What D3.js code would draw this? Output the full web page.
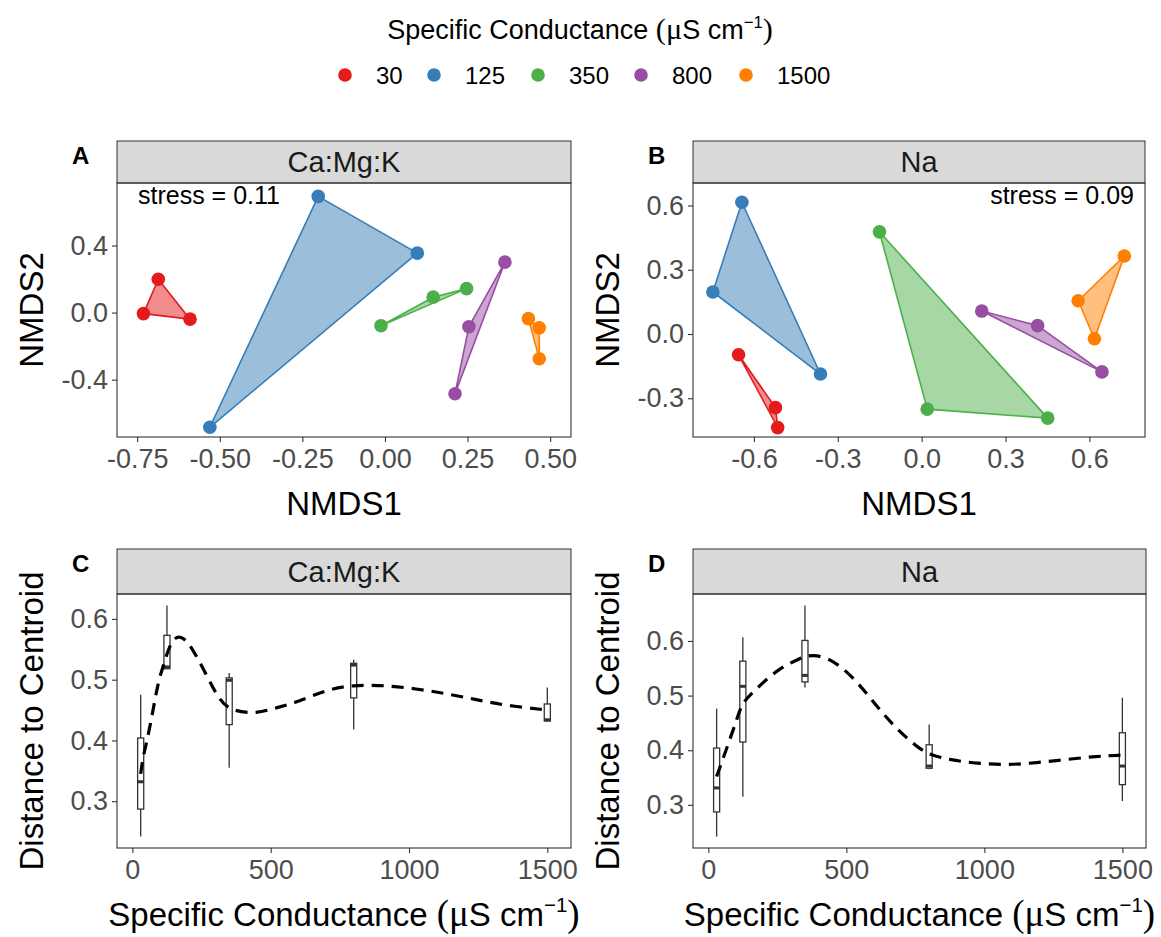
<!DOCTYPE html>
<html><head><meta charset="utf-8">
<script src="https://cdn.jsdelivr.net/npm/d3@7"></script>
<style>body{margin:0;background:#fff} text{font-family:"Liberation Sans",Arial,sans-serif}</style>
</head><body><svg id="c" width="1161" height="937"></svg>
<script>
// ---------- DATA ----------
const groups = [30, 125, 350, 800, 1500];
const groupColors = ["#E41A1C", "#377EB8", "#4DAF4A", "#984EA3", "#FF7F00"];

// NMDS scores, Ca:Mg:K  [group, NMDS1, NMDS2]
const nmdsCaMgK = [
  [30, -0.686, 0.199], [30, -0.731, -0.006], [30, -0.590, -0.039],
  [125, -0.202, 0.693], [125, 0.098, 0.355], [125, -0.530, -0.684],
  [350, -0.012, -0.078], [350, 0.146, 0.092], [350, 0.247, 0.143],
  [800, 0.363, 0.301], [800, 0.254, -0.084], [800, 0.212, -0.484],
  [1500, 0.434, -0.036], [1500, 0.467, -0.091], [1500, 0.467, -0.275]
];
// NMDS scores, Na
const nmdsNa = [
  [30, -0.655, -0.097], [30, -0.523, -0.344], [30, -0.515, -0.437],
  [125, -0.643, 0.615], [125, -0.747, 0.196], [125, -0.362, -0.187],
  [350, -0.151, 0.477], [350, 0.020, -0.351], [350, 0.451, -0.393],
  [800, 0.215, 0.107], [800, 0.415, 0.039], [800, 0.645, -0.177],
  [1500, 0.725, 0.364], [1500, 0.560, 0.155], [1500, 0.618, -0.022]
];
const stressCaMgK = "stress = 0.11";
const stressNa = "stress = 0.09";

// Distance to centroid boxplots (whisker low, q1, median, q3, whisker high)
const boxCaMgK_lo  = [0.242, 0.518, 0.355, 0.418, 0.432];
const boxCaMgK_q1  = [0.287, 0.518, 0.426, 0.470, 0.432];
const boxCaMgK_med = [0.332, 0.521, 0.499, 0.524, 0.434];
const boxCaMgK_q3  = [0.404, 0.573, 0.503, 0.527, 0.460];
const boxCaMgK_hi  = [0.475, 0.622, 0.511, 0.533, 0.487];

const boxNa_lo  = [0.242, 0.315, 0.515, 0.365, 0.307];
const boxNa_q1  = [0.287, 0.415, 0.525, 0.367, 0.337];
const boxNa_med = [0.331, 0.517, 0.537, 0.371, 0.371];
const boxNa_q3  = [0.404, 0.563, 0.601, 0.410, 0.432];
const boxNa_hi  = [0.476, 0.607, 0.665, 0.447, 0.496];

// smoothed trend
const smoothCaMgK_x = [30, 38, 53, 74, 95, 111, 140, 176, 213, 268, 316, 364, 449, 521, 605, 702, 798, 907, 1027, 1136, 1245, 1341, 1500];
const smoothCaMgK_y = [0.345, 0.372, 0.399, 0.448, 0.500, 0.521, 0.566, 0.574, 0.555, 0.508, 0.464, 0.448, 0.444, 0.454, 0.464, 0.484, 0.491, 0.491, 0.485, 0.477, 0.467, 0.458, 0.450];
const smoothNa_x = [30, 69, 105, 123, 165, 249, 334, 376, 454, 539, 611, 683, 768, 804, 876, 973, 1081, 1189, 1298, 1406, 1500];
const smoothNa_y = [0.352, 0.407, 0.459, 0.487, 0.508, 0.548, 0.569, 0.576, 0.566, 0.526, 0.480, 0.438, 0.401, 0.392, 0.382, 0.376, 0.373, 0.377, 0.383, 0.389, 0.391];

// tick values
const ticksA_x = [-0.75, -0.5, -0.25, 0, 0.25, 0.5];
const ticksA_y = [-0.4, 0, 0.4];
const ticksB_x = [-0.6, -0.3, 0, 0.3, 0.6];
const ticksB_y = [-0.3, 0, 0.3, 0.6];
const ticksCD_x = [0, 500, 1000, 1500];
const ticksCD_y = [0.3, 0.4, 0.5, 0.6];

// ---------- DRAWING ----------
const svg = d3.select("#c");
const color = d3.scaleOrdinal().domain(groups).range(groupColors);
const DARK = "#333333", TICKTXT = "#4D4D4D";
const FS_TICK = 27, FS_TITLE = 33, FS_STRIP = 29;
const hy = f => v => f(v).replace("\u2212", "-");

function scTitle(t, fs) {
  t.append("tspan").text("Specific Conductance ");
  t.append("tspan").attr("font-family", "'Liberation Serif','Times New Roman',serif").attr("font-size", fs * 1.12).text("(\u03BC");
  t.append("tspan").text("S cm");
  t.append("tspan").attr("font-size", fs * 0.62).attr("dy", -fs * 0.42).text("\u22121");
  t.append("tspan").attr("font-family", "'Liberation Serif','Times New Roman',serif").attr("font-size", fs * 1.12).attr("dy", fs * 0.42).text(")");
}

function panelFrame(p) {
  svg.append("rect").attr("x", p.x0).attr("y", p.stripTop).attr("width", p.x1 - p.x0).attr("height", p.y0 - p.stripTop)
    .attr("fill", "#D9D9D9").attr("stroke", DARK).attr("stroke-width", 1);
  svg.append("text").attr("x", (p.x0 + p.x1) / 2).attr("y", (p.stripTop + p.y0) / 2).attr("dy", "0.36em")
    .attr("text-anchor", "middle").attr("font-size", FS_STRIP).attr("fill", "#1A1A1A").text(p.strip);
  svg.append("text").attr("x", p.tagX).attr("y", p.stripTop + 23).attr("font-size", 24).attr("font-weight", "bold").text(p.tag);
}

function axes(p, xs, ys, xt, yt, xf, yf, xTitle, yTitle) {
  const gx = svg.append("g").attr("transform", `translate(0,${p.y1})`)
    .call(d3.axisBottom(xs).tickValues(xt).tickFormat(xf).tickSize(5).tickPadding(7));
  const gy = svg.append("g").attr("transform", `translate(${p.x0},0)`)
    .call(d3.axisLeft(ys).tickValues(yt).tickFormat(yf).tickSize(5).tickPadding(4));
  [gx, gy].forEach(g => {
    g.select(".domain").remove();
    g.selectAll(".tick line").attr("stroke", DARK).attr("stroke-width", 1.1);
    g.selectAll(".tick text").attr("fill", TICKTXT).attr("font-size", FS_TICK).attr("font-family", "'Liberation Sans',Arial,sans-serif");
  });
  const xt_ = svg.append("text").attr("x", (p.x0 + p.x1) / 2).attr("y", p.y1 + 78).attr("text-anchor", "middle")
    .attr("font-size", FS_TITLE).attr("fill", "#000");
  if (xTitle === "SC") scTitle(xt_, FS_TITLE); else xt_.text(xTitle);
  svg.append("text").attr("transform", `translate(${p.x0 - 74},${(p.y0 + p.y1) / 2}) rotate(-90)`)
    .attr("text-anchor", "middle").attr("font-size", FS_TITLE).attr("fill", "#000").text(yTitle);
}

function border(p) {
  svg.append("rect").attr("x", p.x0).attr("y", p.y0).attr("width", p.x1 - p.x0).attr("height", p.y1 - p.y0)
    .attr("fill", "none").attr("stroke", DARK).attr("stroke-width", 1.1);
}

function nmdsPanel(p, data, xd, yd, xt, yt, xf, stress, stressAnchor) {
  const xs = d3.scaleLinear().domain(xd).range([p.x0, p.x1]);
  const ys = d3.scaleLinear().domain(yd).range([p.y1, p.y0]);
  panelFrame(p);
  const g = svg.append("g");
  groups.forEach(gr => {
    const pts = data.filter(d => d[0] === gr).map(d => [xs(d[1]), ys(d[2])]);
    const hull = d3.polygonHull(pts);
    g.append("path").attr("d", "M" + hull.join("L") + "Z")
      .attr("fill", color(gr)).attr("fill-opacity", 0.5)
      .attr("stroke", color(gr)).attr("stroke-width", 1.6).attr("stroke-linejoin", "round");
  });
  g.selectAll("circle").data(data).join("circle")
    .attr("cx", d => xs(d[1])).attr("cy", d => ys(d[2])).attr("r", 6.8).attr("fill", d => color(d[0]));
  const st = svg.append("text").attr("y", p.y0 + 21).attr("font-size", 25).attr("fill", "#000").text(stress);
  if (stressAnchor === "start") st.attr("x", p.x0 + 21).attr("text-anchor", "start");
  else st.attr("x", p.x1 - 11).attr("text-anchor", "end");
  border(p);
  axes(p, xs, ys, xt, yt, xf, hy(d3.format(".1f")), "NMDS1", "NMDS2");
}

function boxPanel(p, lo, q1, med, q3, hi, sx, sy, yd) {
  const xs = d3.scaleLinear().domain([-55.6, 1585.6]).range([p.x0, p.x1]);
  const ys = d3.scaleLinear().domain(yd).range([p.y1, p.y0]);
  panelFrame(p);
  const bw = xs(11) - xs(0);
  const g = svg.append("g");
  groups.forEach((gr, i) => {
    const cx = xs(gr);
    g.append("line").attr("x1", cx).attr("x2", cx).attr("y1", ys(hi[i])).attr("y2", ys(q3[i])).attr("stroke", DARK).attr("stroke-width", 1.3);
    g.append("line").attr("x1", cx).attr("x2", cx).attr("y1", ys(q1[i])).attr("y2", ys(lo[i])).attr("stroke", DARK).attr("stroke-width", 1.3);
    g.append("rect").attr("x", cx - bw).attr("width", 2 * bw).attr("y", ys(q3[i])).attr("height", Math.max(0.5, ys(q1[i]) - ys(q3[i])))
      .attr("fill", "#fff").attr("stroke", DARK).attr("stroke-width", 1.3);
    g.append("line").attr("x1", cx - bw).attr("x2", cx + bw).attr("y1", ys(med[i])).attr("y2", ys(med[i])).attr("stroke", DARK).attr("stroke-width", 3);
  });
  const line = d3.line().x(d => xs(d[0])).y(d => ys(d[1])).curve(d3.curveBasis);
  g.append("path").attr("d", line(sx.map((x, i) => [x, sy[i]])))
    .attr("fill", "none").attr("stroke", "#000").attr("stroke-width", 3.2).attr("stroke-dasharray", "12,8");
  border(p);
  axes(p, xs, ys, ticksCD_x, ticksCD_y, d3.format("d"), hy(d3.format(".1f")), "SC", "Distance to Centroid");
}

const pA = { x0: 117, x1: 571, y0: 183, y1: 437, stripTop: 141, strip: "Ca:Mg:K", tag: "A", tagX: 72 };
const pB = { x0: 693, x1: 1145, y0: 183, y1: 437, stripTop: 141, strip: "Na", tag: "B", tagX: 648 };
const pC = { x0: 117, x1: 571, y0: 594, y1: 848, stripTop: 549, strip: "Ca:Mg:K", tag: "C", tagX: 72 };
const pD = { x0: 693, x1: 1146, y0: 594, y1: 848, stripTop: 549, strip: "Na", tag: "D", tagX: 648 };

nmdsPanel(pA, nmdsCaMgK, [-0.811, 0.563], [-0.742, 0.773], ticksA_x, ticksA_y, hy(d3.format(".2f")), stressCaMgK, "start");
nmdsPanel(pB, nmdsNa, [-0.818, 0.799], [-0.481, 0.705], ticksB_x, ticksB_y, hy(d3.format(".1f")), stressNa, "end");
boxPanel(pC, boxCaMgK_lo, boxCaMgK_q1, boxCaMgK_med, boxCaMgK_q3, boxCaMgK_hi, smoothCaMgK_x, smoothCaMgK_y, [0.223, 0.641]);
boxPanel(pD, boxNa_lo, boxNa_q1, boxNa_med, boxNa_q3, boxNa_hi, smoothNa_x, smoothNa_y, [0.221, 0.686]);

// ---------- LEGEND ----------
const lt = svg.append("text").attr("x", 580).attr("y", 39).attr("text-anchor", "middle").attr("font-size", 27).attr("fill", "#000");
scTitle(lt, 27);
const legX = [345, 434, 538, 641, 746];
groups.forEach((gr, i) => {
  svg.append("circle").attr("cx", legX[i]).attr("cy", 75).attr("r", 6.8).attr("fill", color(gr));
  svg.append("text").attr("x", legX[i] + 31).attr("y", 75).attr("dy", "0.36em").attr("font-size", 24).attr("fill", "#000").text(gr);
});
</script></body></html>
